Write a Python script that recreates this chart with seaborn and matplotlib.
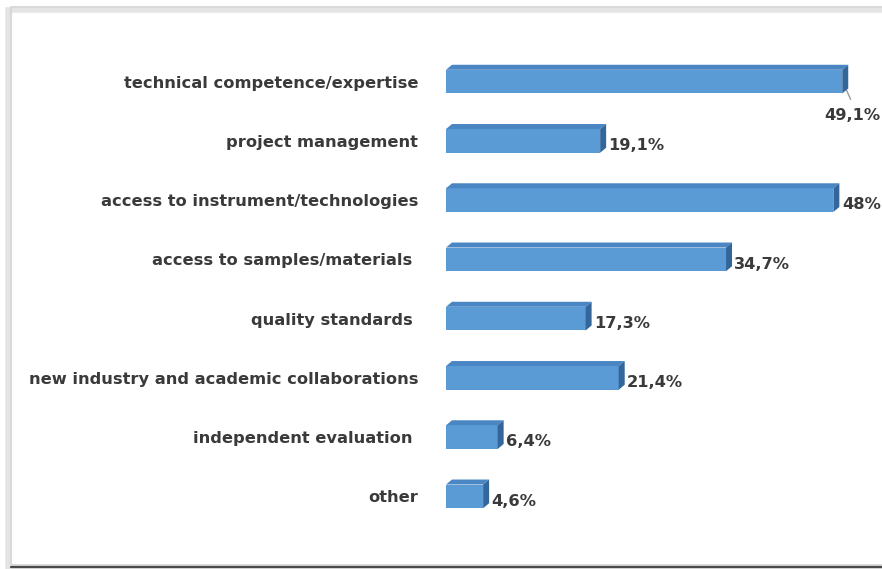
import matplotlib
matplotlib.use("Agg")
import matplotlib.pyplot as plt
import seaborn as sns
import pandas as pd
from matplotlib.patches import Polygon, Rectangle

categories = [
    "technical competence/expertise",
    "project management",
    "access to instrument/technologies",
    "access to samples/materials ",
    "quality standards ",
    "new industry and academic collaborations",
    "independent evaluation ",
    "other",
]
values = [49.1, 19.1, 48.0, 34.7, 17.3, 21.4, 6.4, 4.6]
value_labels = ["49,1%", "19,1%", "48%", "34,7%", "17,3%", "21,4%", "6,4%", "4,6%"]

df = pd.DataFrame({"category": categories, "value": values})

sns.set_theme(style="white")
plt.rcParams["font.family"] = ["DejaVu Sans"]

W, H = 882, 569
fig = plt.figure(figsize=(W / 100, H / 100), dpi=100)
fig.patch.set_facecolor("white")

# frame with shadow
fig.patches.append(Rectangle((8 / W, 1 - 570 / H), 880 / W, 560 / H, transform=fig.transFigure,
                             facecolor="none", edgecolor="#e4e4e4", lw=4, zorder=-2))
fig.patches.append(Rectangle((11 / W, 1 - 565 / H), 880 / W, 558 / H, transform=fig.transFigure,
                             facecolor="none", edgecolor="#d4d4d4", lw=1.2, zorder=-1))
fig.lines.append(plt.Line2D([11 / W, 1], [1 - 566.5 / H] * 2, transform=fig.transFigure,
                            color="#4a4a4a", lw=1.6, zorder=1))

ax = fig.add_axes([446 / W, 1 - 526 / H, (W - 446) / W, 474 / H])
ax.set_facecolor("none")
ax.set_zorder(2)
front = "#5b9bd5"
sns.barplot(data=df, x="value", y="category", orient="h", color=front, saturation=1,
            width=0.40, ax=ax)
ax.set_xlim(0, (W - 446) / 8.07)
ax.set_ylim(7.5, -0.5)

for s in ax.spines.values():
    s.set_visible(False)
ax.set_xticks([])
ax.set_xlabel("")
ax.set_ylabel("")
fs = 11.7
ax.tick_params(axis="y", length=0, pad=20, labelsize=fs, labelcolor="#3a3a3a")
for t in ax.get_yticklabels():
    t.set_fontweight("bold")

fig.canvas.draw()
inv = ax.transData.inverted()
o = ax.transData.transform((0, 0))
dxp, dyp = 6, 5
d = inv.transform((o[0] + dxp, o[1] + dyp))
dx, dy = d[0], d[1]

for i, p in enumerate(list(ax.patches)):
    x0, y0, w, h = p.get_x(), p.get_y(), p.get_width(), p.get_height()
    p.set_edgecolor("none")
    top = Polygon([(x0, y0), (x0 + w, y0), (x0 + w + dx, y0 + dy), (x0 + dx, y0 + dy)],
                  closed=True, facecolor="#4a86c4", edgecolor="none", zorder=3)
    side = Polygon([(x0 + w, y0), (x0 + w + dx, y0 + dy), (x0 + w + dx, y0 + h + dy), (x0 + w, y0 + h)],
                   closed=True, facecolor="#33679c", edgecolor="none", zorder=3)
    ax.add_patch(top)
    ax.add_patch(side)
    yc = y0 + h / 2
    if i == 0:
        ax.plot([x0 + w + dx * 0.3, x0 + w + dx * 1.4], [yc + 0.05, yc + 0.3], color="#999999", lw=1, clip_on=False)
        ax.text(ax.get_xlim()[1] - dx * 0.2, yc + 0.58, value_labels[i], ha="right", va="center",
                fontsize=fs, fontweight="bold", color="#3a3a3a", clip_on=False)
    else:
        ax.text(x0 + w + dx * 1.4, yc + 0.08, value_labels[i], ha="left", va="center",
                fontsize=fs, fontweight="bold", color="#3a3a3a", clip_on=False)

fig.savefig("out.png", dpi=100)
